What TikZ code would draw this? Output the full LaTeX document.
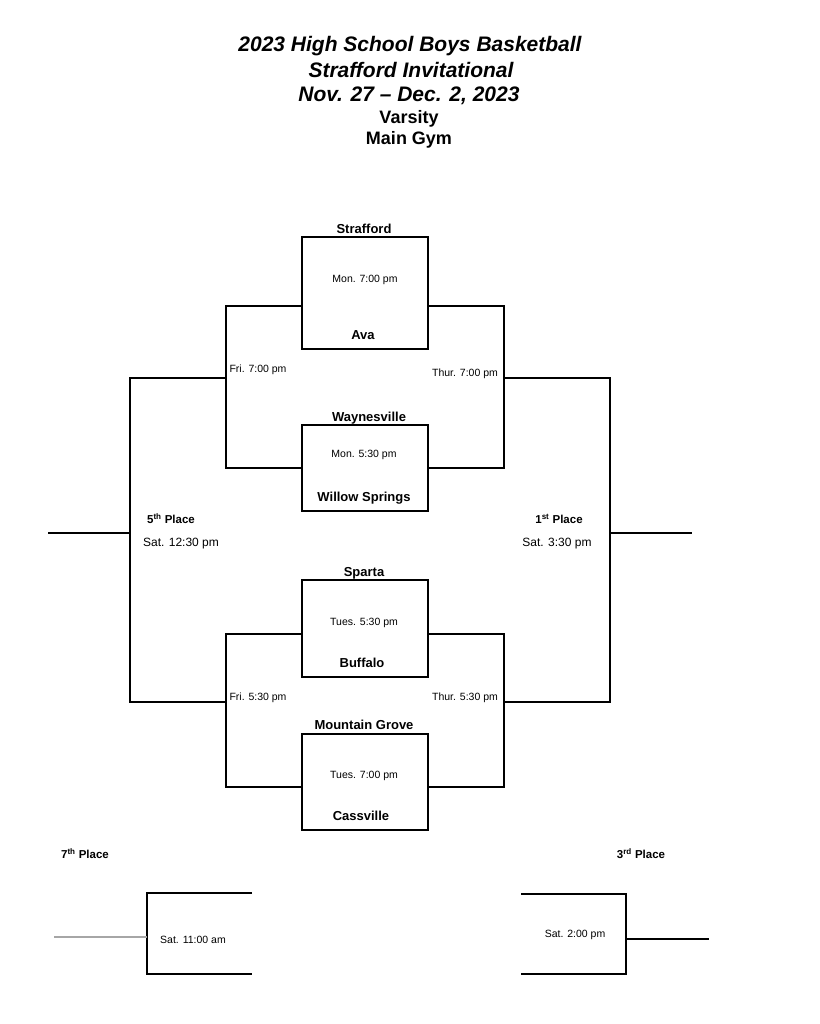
\documentclass[tikz,border=0pt]{standalone}
\usepackage{fontspec}
\setmainfont{Liberation Sans}
\begin{document}
\begin{tikzpicture}[x=1pt,y=-1pt,line width=1.1pt,
  box/.style={draw,minimum width=126pt,inner sep=0pt},
  txt/.style={inner sep=0pt,text height=.716em,text depth=0pt},
  team/.style={txt,font=\fontsize{13}{15}\selectfont\bfseries},
  gtime/.style={txt,yshift=-1pt,font=\fontsize{10.5}{12}\selectfont},
  place/.style={txt,yshift=-1pt,font=\fontsize{11.5}{13}\selectfont\bfseries},
  ptime/.style={txt,yshift=-1pt,font=\fontsize{12}{14}\selectfont},
  ttl/.style={txt,yshift=-3.5pt,font=\fontsize{21}{25}\selectfont\bfseries\itshape},
  sub/.style={txt,yshift=-3.5pt,font=\fontsize{18}{21}\selectfont\bfseries}]
\useasboundingbox (0,0) rectangle (819,1024);
\fill[white] (0,0) rectangle (819,1024);
% title
\node[ttl] (t1) at (410,44) {2023 High School Boys Basketball};
\node[ttl] (t2) at (411,70) {Strafford Invitational};
\node[ttl] (t3) at (409,94) {Nov. 27 -- Dec. 2, 2023};
\node[sub] (t4) at (409,116) {Varsity};
\node[sub] (t5) at (409,137) {Main Gym};
% game boxes
\node[box,minimum height=112pt] (b1) at (365,293) {};
\node[box,minimum height=86pt] (b2) at (365,468) {};
\node[box,minimum height=97pt] (b3) at (365,628.5) {};
\node[box,minimum height=96pt] (b4) at (365,782) {};
% box texts
\node[team] (s1) at (364,229.7) {Strafford};
\node[gtime] (g1) at (365,278) {Mon. 7:00 pm};
\node[team] (a1) at (363,336.3) {Ava};
\node[team] (s2) at (369,418) {Waynesville};
\node[gtime] (g2) at (364,453) {Mon. 5:30 pm};
\node[team] (a2) at (364,498) {Willow Springs};
\node[team] (s3) at (364,573) {Sparta};
\node[gtime] (g3) at (364,621) {Tues. 5:30 pm};
\node[team] (a3) at (362,663.5) {Buffalo};
\node[team] (s4) at (364,726) {Mountain Grove};
\node[gtime] (g4) at (364,774) {Tues. 7:00 pm};
\node[team] (a4) at (361,816.5) {Cassville};
% bracket coordinates
\coordinate (L1) at (226,306); \coordinate (L2) at (226,468);
\coordinate (R1) at (504,306); \coordinate (R2) at (504,468);
\coordinate (L3) at (226,634); \coordinate (L4) at (226,787);
\coordinate (R3) at (504,634); \coordinate (R4) at (504,787);
\coordinate (LA) at (226,378); \coordinate (LB) at (226,702);
\coordinate (RA) at (504,378); \coordinate (RB) at (504,702);
\coordinate (FL1) at (130,378); \coordinate (FL2) at (130,702);
\coordinate (FR1) at (610,378); \coordinate (FR2) at (610,702);
\coordinate (FLm) at (130,533); \coordinate (FLe) at (48,533);
\coordinate (FRm) at (610,533); \coordinate (FRe) at (692,533);
% first round brackets
\draw (b1.west |- L1) -- (L1) -- (L2) -- (b2.west |- L2);
\draw (b1.east |- R1) -- (R1) -- (R2) -- (b2.east |- R2);
\draw (b3.west |- L3) -- (L3) -- (L4) -- (b4.west |- L4);
\draw (b3.east |- R3) -- (R3) -- (R4) -- (b4.east |- R4);
% final brackets
\draw (LA) -- (FL1) -- (FL2) -- (LB);
\draw (RA) -- (FR1) -- (FR2) -- (RB);
\draw (FLm) -- (FLe);
\draw (FRm) -- (FRe);
% bracket labels
\node[gtime] (f1) at (258,368) {Fri. 7:00 pm};
\node[gtime] (h1) at (465,372) {Thur. 7:00 pm};
\node[gtime] (f2) at (258,696) {Fri. 5:30 pm};
\node[gtime] (h2) at (465,696) {Thur. 5:30 pm};
\node[place] (p5) at (171,519) {5\textsuperscript{th} Place};
\node[ptime] (q5) at (181,542) {Sat. 12:30 pm};
\node[place] (p1) at (559,519) {1\textsuperscript{st} Place};
\node[ptime] (q1) at (557,542) {Sat. 3:30 pm};
% 7th place
\node[place] (p7) at (85,854) {7\textsuperscript{th} Place};
\coordinate (S1) at (252,893); \coordinate (S2) at (147,893);
\coordinate (S3) at (147,974); \coordinate (S4) at (252,974);
\coordinate (S5) at (147,937); \coordinate (S6) at (54,937);
\draw (S1) -- (S2) -- (S3) -- (S4);
\draw[gray!70] (S5) -- (S6);
\node[gtime] (q7) at (193,939) {Sat. 11:00 am};
% 3rd place
\node[place] (p3) at (641,854) {3\textsuperscript{rd} Place};
\coordinate (T1) at (521,894); \coordinate (T2) at (626,894);
\coordinate (T3) at (626,974); \coordinate (T4) at (521,974);
\coordinate (T5) at (626,939); \coordinate (T6) at (709,939);
\draw (T1) -- (T2) -- (T3) -- (T4);
\draw (T5) -- (T6);
\node[gtime] (q3) at (575,933) {Sat. 2:00 pm};
\end{tikzpicture}
\end{document}
